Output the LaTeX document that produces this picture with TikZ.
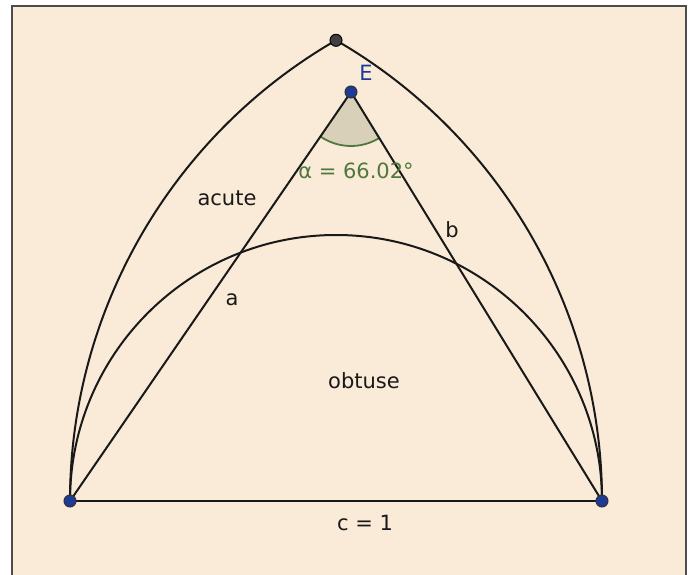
\documentclass[tikz,border=0pt]{standalone}
\usepackage{fontspec}
\setmainfont{DejaVu Sans}
\definecolor{peach}{RGB}{250,235,216}
\definecolor{ptblue}{RGB}{28,58,150}
\definecolor{angfill}{RGB}{216,208,184}
\definecolor{anggreen}{RGB}{80,120,60}
\definecolor{lbl}{RGB}{25,25,25}
\tikzset{
  seg/.style={line width=2pt, draw=black!90},
  ptdot/.style={circle, fill=ptblue, draw=black!80, line width=1pt, inner sep=0pt, minimum size=12pt},
  topdot/.style={circle, fill=black!75, draw=black, line width=1pt, inner sep=0pt, minimum size=12pt},
  lab/.style={font=\fontsize{21}{24}\selectfont, text=lbl, inner sep=0pt}
}
\begin{document}
\begin{tikzpicture}[x=1pt,y=-1pt]
\useasboundingbox (0,0) rectangle (689,575);
\fill[white] (0,0) rectangle (689,575);
\fill[peach] (12,6) rectangle (686,580);
\draw[line width=2.2pt, black!70] (12,580) -- (12,6) -- (686,6) -- (686,580);
% points
\coordinate (A) at (70,501);
\coordinate (B) at (602,501);
\coordinate (E) at (351,92);
\coordinate (T) at (336,40.3);
% angle sector
\fill[angfill] (E) -- ++(58.5:54) arc[start angle=58.5, end angle=124.5, radius=54] -- cycle;
\draw[anggreen, line width=1.8pt] (E) ++(58.5:54) arc[start angle=58.5, end angle=124.5, radius=54];
% arcs
\draw[seg] (A) arc[start angle=180, end angle=240, radius=532];
\draw[seg] (B) arc[start angle=0, end angle=-60, radius=532];
\draw[seg] (B) arc[start angle=0, end angle=-180, radius=266];
% triangle
\draw[seg] (A) -- (B);
\draw[seg] (A) -- (E);
\draw[seg] (B) -- (E);
% dots
\node[ptdot] (nA) at (A) {};
\node[ptdot] (nB) at (B) {};
\node[ptdot] (nE) at (E) {};
\node[topdot] (nT) at (T) {};
% labels
\node[lab, text=ptblue] (lE) at (366,73) {E};
\node[lab, text=anggreen] (lal) at (356,171) {α = 66.02°};
\node[lab] (lac) at (227,198) {acute};
\node[lab] (la) at (232,300) {a};
\node[lab] (lb) at (452,230) {b};
\node[lab] (lob) at (364,381) {obtuse};
\node[lab] (lc) at (365,523) {c = 1};
\end{tikzpicture}
\end{document}
